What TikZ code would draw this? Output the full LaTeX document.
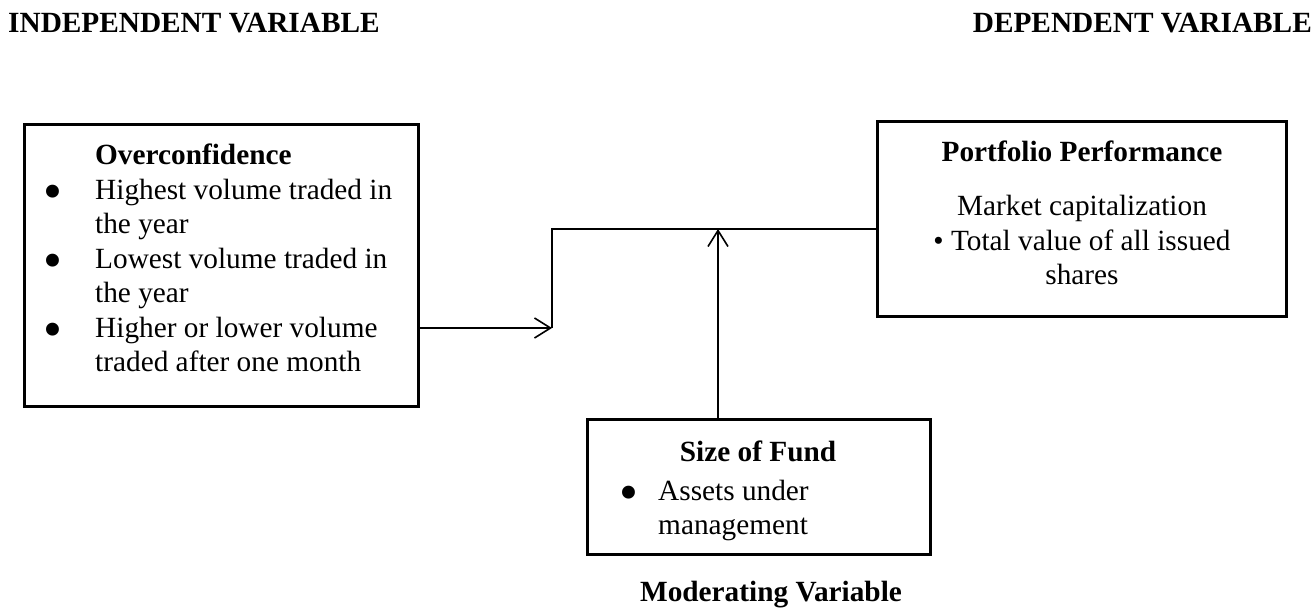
\documentclass[tikz,border=0pt]{standalone}
\usepackage{fontspec}
\setmainfont{Liberation Serif}
\usetikzlibrary{
  arrows.meta
}
\newcommand{\bigdot}{\raisebox{-10pt}{\fontsize{54}{34.5}\selectfont\textbullet}}
\tikzset{
  >={Straight Barb[length=16pt,width=20pt]},
  every node/.style = {inner sep=0pt, font=\fontsize{29.3}{34.5}\selectfont},
  box/.style = {draw, rectangle, line width=3pt},
  link/.style = {line width=1.6pt},
  txt/.style = {anchor=base west},
  heading/.style = {anchor=base, font=\fontsize{29.3}{34.5}\selectfont\bfseries},
  bul/.style = {anchor=base},
}

\begin{document}
\begin{tikzpicture}[x=1pt, y=-1pt]
  \useasboundingbox (0,0) rectangle (1314,609);
  % headings
  \node[heading, anchor=base west] (indep) at (8,33) {INDEPENDENT VARIABLE};
  \node[heading, anchor=base east] (dep) at (1312,33) {DEPENDENT VARIABLE};
  \node[heading] (moder) at (771,601) {Moderating Variable};
  % boxes
  \node[box, minimum width=394pt, minimum height=281pt] (over) at (221,265.5) {};
  \node[box, minimum width=409pt, minimum height=195pt] (perf) at (1081.5,219.5) {};
  \node[box, minimum width=343pt, minimum height=135pt] (size) at (758.5,486.5) {};
  % box contents
  \node[txt] (overtxt) at (95,165) {\begin{tabular}[t]{@{}l@{}}
    \textbf{Overconfidence}\\
    Highest volume traded in\\
    the year\\
    Lowest volume traded in\\
    the year\\
    Higher or lower volume\\
    traded after one month
  \end{tabular}};
  \node[bul] (b1) at (53,199.5) {\bigdot};
  \node[bul] (b2) at (53,268.5) {\bigdot};
  \node[bul] (b3) at (53,337.5) {\bigdot};
  \node[anchor=base] (perftxt) at (1082,162) {\begin{tabular}[t]{@{}c@{}}
    \textbf{Portfolio Performance}\\[19.5pt]
    Market capitalization\\
    \textbullet{} Total value of all issued\\
    shares
  \end{tabular}};
  \node[heading] (sizetitle) at (758,461) {Size of Fund};
  \node[txt] (sizetxt) at (658,500) {\begin{tabular}[t]{@{}l@{}}
    Assets under\\
    management
  \end{tabular}};
  \node[bul] (b4) at (629,500) {\bigdot};
  % connectors
  \coordinate (join) at (552,328);
  \coordinate (bend) at (552,229);
  \coordinate (meet) at (718,229);
  \draw[link, ->] (over.east |- join) -- (join);
  \draw[link] (join) -- (bend) -- (bend -| perf.west);
  \draw[link, ->] (size.north -| meet) -- (meet);
\end{tikzpicture}
\end{document}
